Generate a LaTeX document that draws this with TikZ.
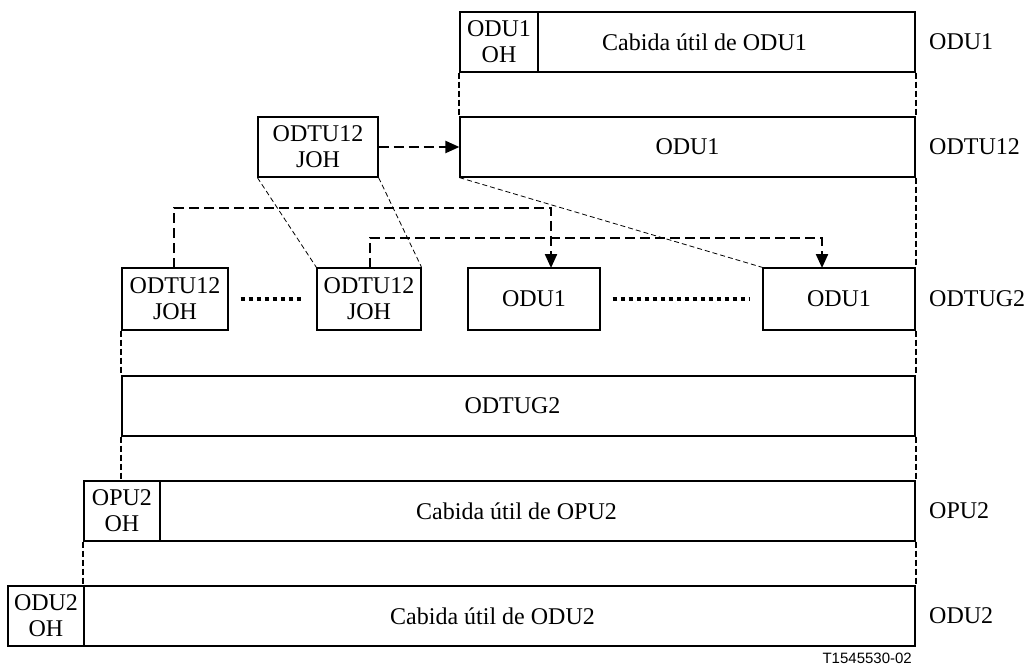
\documentclass[tikz,border=0pt]{standalone}
\usepackage{fontspec}
\setmainfont{Liberation Serif}
\newfontfamily\labsans{Liberation Sans}
\usetikzlibrary{arrows.meta,calc}
\begin{document}
\begin{tikzpicture}[x=1pt,y=-1pt,
  every node/.style={font=\fontsize{24}{26}\selectfont},
  fbox/.style={draw,line width=1.2pt,inner sep=0pt,align=center,minimum height=60pt},
  rlabel/.style={anchor=west,inner sep=0pt},
  vdash/.style={line width=2pt,dash pattern=on 6pt off 3pt},
  conn/.style={line width=2.2pt,dash pattern=on 10pt off 5pt,-{Triangle[length=14pt,width=12pt]}},
  thin/.style={line width=0.8pt,dash pattern=on 5pt off 3pt},
  dotl/.style={line width=4pt,dash pattern=on 4pt off 4pt}]
\useasboundingbox (0,0) rectangle (1024,668);
% ODU1 frame
\node[fbox,minimum width=78pt] (oh1) at (499,42) {ODU1\\OH};
\node[fbox,minimum width=377pt,label={[xshift=-22pt]center:Cabida útil de ODU1}] (pl1) at (726.5,42) {};
\node[rlabel] (l1) at (929,42) {ODU1};
% ODTU12 row
\node[fbox,minimum width=455pt] (odu1b) at (687.5,147) {ODU1};
\node[fbox,minimum width=120pt] (jt) at (318,147) {ODTU12\\JOH};
\node[rlabel] (l2) at (929,147) {ODTU12};
% ODTUG2 row
\node[fbox,minimum width=106pt,minimum height=62pt] (b1) at (175,299) {ODTU12\\JOH};
\node[fbox,minimum width=104pt,minimum height=62pt] (b2) at (369,299) {ODTU12\\JOH};
\node[fbox,minimum width=132pt,minimum height=62pt] (b3) at (534,299) {ODU1};
\node[fbox,minimum width=152pt,minimum height=62pt] (b4) at (839,299) {ODU1};
\node[rlabel] (l3) at (929,299) {ODTUG2};
% ODTUG2 big
\node[fbox,minimum width=793pt,label={[xshift=-6pt]center:ODTUG2}] (g2) at (518.5,406) {};
% OPU2
\node[fbox,minimum width=76pt] (oh2) at (122,511) {OPU2\\OH};
\node[fbox,minimum width=755pt,label={[xshift=-21pt]center:Cabida útil de OPU2}] (pl2) at (537.5,511) {};
\node[rlabel] (l4) at (929,511) {OPU2};
% ODU2
\node[fbox,minimum width=76pt] (oh3) at (46,616) {ODU2\\OH};
\node[fbox,minimum width=831pt,label={[xshift=-7pt]center:Cabida útil de ODU2}] (pl3) at (499.5,616) {};
\node[rlabel] (l5) at (929,616) {ODU2};
\node[anchor=east,inner sep=0pt,font=\labsans\fontsize{15}{17}\selectfont] (fig) at (912,658) {T1545530-02};
% coordinates for connector ends
\coordinate (t3) at (551,268);
\coordinate (t4) at (822,268);
\coordinate (s1) at (174,268);
\coordinate (s2) at (370,268);
% vertical dashed guides
\draw[vdash] (oh1.south west) -- (odu1b.north west);
\draw[vdash] (pl1.south east) -- (odu1b.north east);
\draw[vdash] (odu1b.south east) -- (b4.north east);
\draw[vdash] (b1.south west) -- (g2.north west);
\draw[vdash] (b4.south east) -- (g2.north east);
\draw[vdash] (g2.south west) -- (g2.south west |- oh2.north);
\draw[vdash] (g2.south east) -- (pl2.north east);
\draw[vdash] (oh2.south west) -- (pl3.north west);
\draw[vdash] (pl2.south east) -- (pl3.north east);
% thin dashed diagonals
\draw[thin] (jt.south west) -- (b2.north west);
\draw[thin] (jt.south east) -- (b2.north east);
\draw[thin] (odu1b.south west) -- (b4.north west);
% arrows
\draw[conn] (jt.east) -- (odu1b.west);
\draw[conn] (s1) -- ++(0,-60) -| (t3);
\draw[conn] (s2) -- ++(0,-30) -| (t4);
% dotted
\draw[dotl] ($(b1.east)+(12,0)$) -- ($(b2.west)+(-12,0)$);
\draw[dotl] ($(b3.east)+(12,0)$) -- ($(b4.west)+(-12,0)$);
\end{tikzpicture}
\end{document}
